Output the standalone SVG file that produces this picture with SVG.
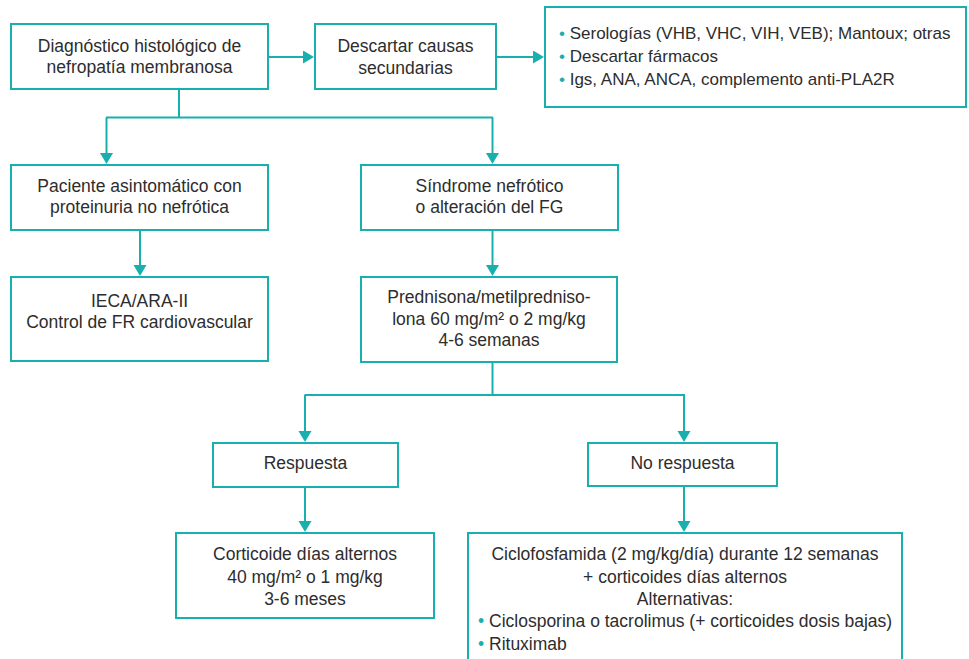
<svg xmlns="http://www.w3.org/2000/svg" width="969" height="659" viewBox="0 0 969 659">
  <defs>
    <style>
      .box { fill: #ffffff; stroke: #1aafaf; stroke-width: 2; }
      .t { font-family: "Liberation Sans", Arial, sans-serif; font-size: 17.5px; fill: #2d2d2d; text-anchor: middle; }
      .tl { font-family: "Liberation Sans", Arial, sans-serif; font-size: 17.5px; fill: #2d2d2d; }
      .small { font-size: 17px; }
      .b { fill: #1aafaf; }
      .con { fill: none; stroke: #1aafaf; stroke-width: 2; }
    </style>
    <marker id="arr" markerUnits="userSpaceOnUse" markerWidth="12" markerHeight="14" refX="6" refY="6.5" orient="auto">
      <path d="M0,0 L11,6.5 L0,13 Z" fill="#1aafaf"/>
    </marker>
  </defs>
  <rect width="969" height="659" fill="#ffffff"/>

  <g id="connectors">
    <line class="con" x1="268" y1="57" x2="309" y2="57" marker-end="url(#arr)"/>
    <line class="con" x1="496" y1="57" x2="539" y2="57" marker-end="url(#arr)"/>
    <path class="con" d="M179 89 V117.5 M106 117.5 H493"/>
    <line class="con" x1="106.5" y1="117.5" x2="106.5" y2="159" marker-end="url(#arr)"/>
    <line class="con" x1="492.5" y1="117.5" x2="492.5" y2="159" marker-end="url(#arr)"/>
    <line class="con" x1="140" y1="230" x2="140" y2="271" marker-end="url(#arr)"/>
    <line class="con" x1="492.5" y1="230" x2="492.5" y2="271" marker-end="url(#arr)"/>
    <path class="con" d="M492.5 362 V395 M304.5 395 H685"/>
    <line class="con" x1="305" y1="395" x2="305" y2="437" marker-end="url(#arr)"/>
    <line class="con" x1="684" y1="395" x2="684" y2="437" marker-end="url(#arr)"/>
    <line class="con" x1="305" y1="487" x2="305" y2="527" marker-end="url(#arr)"/>
    <line class="con" x1="684" y1="486" x2="684" y2="527" marker-end="url(#arr)"/>
  </g>

  <g id="n-diagnostico">
    <rect class="box" x="11" y="24" width="257" height="65"/>
    <text class="t" x="139.5" y="52">Diagnóstico histológico de</text>
    <text class="t" x="139.5" y="73">nefropatía membranosa</text>
  </g>

  <g id="n-descartar">
    <rect class="box" x="315" y="24" width="181" height="65"/>
    <text class="t" x="405.5" y="52">Descartar causas</text>
    <text class="t" x="405.5" y="74">secundarias</text>
  </g>

  <g id="n-pruebas">
    <rect class="box" x="545" y="7" width="421" height="100"/>
    <text class="tl small" x="559" y="39"><tspan class="b">•</tspan> Serologías (VHB, VHC, VIH, VEB); Mantoux; otras</text>
    <text class="tl small" x="559" y="62"><tspan class="b">•</tspan> Descartar fármacos</text>
    <text class="tl small" x="559" y="85"><tspan class="b">•</tspan> Igs, ANA, ANCA, complemento anti-PLA2R</text>
  </g>

  <g id="n-asintomatico">
    <rect class="box" x="11" y="165" width="257" height="65"/>
    <text class="t" x="139.5" y="192">Paciente asintomático con</text>
    <text class="t" x="139.5" y="213">proteinuria no nefrótica</text>
  </g>

  <g id="n-sindrome">
    <rect class="box" x="361" y="165" width="257" height="65"/>
    <text class="t" x="489.5" y="192">Síndrome nefrótico</text>
    <text class="t" x="489.5" y="213">o alteración del FG</text>
  </g>

  <g id="n-ieca">
    <rect class="box" x="11" y="277" width="257" height="84"/>
    <text class="t" x="139.5" y="307">IECA/ARA-II</text>
    <text class="t" x="139.5" y="328">Control de FR cardiovascular</text>
  </g>

  <g id="n-prednisona">
    <rect class="box" x="361" y="277" width="256" height="85"/>
    <text class="t" x="489" y="303">Prednisona/metilpredniso-</text>
    <text class="t" x="489" y="325">lona 60 mg/m² o 2 mg/kg</text>
    <text class="t" x="489" y="346">4-6 semanas</text>
  </g>

  <g id="n-respuesta">
    <rect class="box" x="213" y="443" width="185" height="44"/>
    <text class="t" x="305.5" y="469">Respuesta</text>
  </g>

  <g id="n-norespuesta">
    <rect class="box" x="588" y="443" width="189" height="43"/>
    <text class="t" x="682.5" y="469">No respuesta</text>
  </g>

  <g id="n-corticoide">
    <rect class="box" x="176" y="533" width="258" height="85"/>
    <text class="t" x="305" y="560">Corticoide días alternos</text>
    <text class="t" x="305" y="583">40 mg/m² o 1 mg/kg</text>
    <text class="t" x="305" y="605">3-6 meses</text>
  </g>

  <g id="n-ciclofosfamida">
    <rect class="box" x="468" y="533" width="434" height="140"/>
    <text class="t" x="685" y="560">Ciclofosfamida (2 mg/kg/día) durante 12 semanas</text>
    <text class="t" x="685" y="583">+ corticoides días alternos</text>
    <text class="t" x="685" y="605">Alternativas:</text>
    <text class="tl" x="478" y="627"><tspan class="b">•</tspan> Ciclosporina o tacrolimus (+ corticoides dosis bajas)</text>
    <text class="tl" x="478" y="650"><tspan class="b">•</tspan> Rituximab</text>
  </g>
</svg>
